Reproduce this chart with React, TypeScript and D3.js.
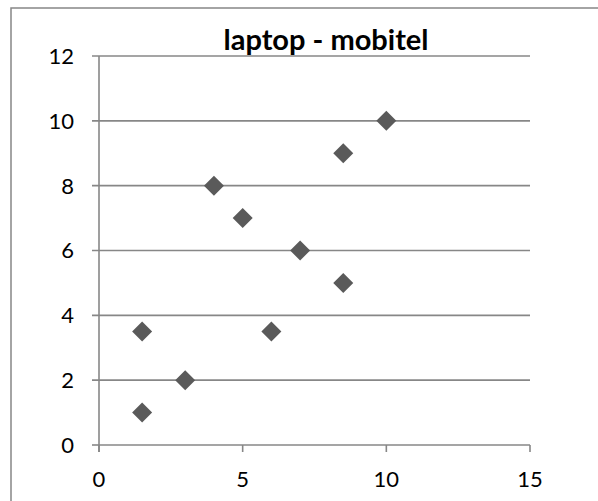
import React from "react";
import * as d3 from "d3";

const title = "laptop - mobitel";
const xValues = [1.5, 1.5, 3, 4, 5, 6, 7, 8.5, 8.5, 10];
const yValues = [3.5, 1, 2, 8, 7, 3.5, 6, 9, 5, 10];
const xTicks = [0, 5, 10, 15];
const yTicks = [0, 2, 4, 6, 8, 10, 12];

const W = 598;
const H = 501;
const FONT = "Lato, 'Open Sans', sans-serif";

export default function App() {
  const x = d3.scaleLinear().domain([0, 15]).range([99, 530]);
  const y = d3.scaleLinear().domain([0, 12]).range([445, 56]);
  const points = xValues.map((v, i) => ({ x: v, y: yValues[i] }));
  const gridColor = "#878787";
  const r = 10;

  return (
    <svg
      width={W}
      height={H}
      style={{ position: "absolute", left: 0, top: 0, background: "#fff" }}
      fontFamily={FONT}
    >
      <rect x={0} y={0} width={W} height={H} fill="#fff" />
      {/* chart border */}
      <rect x={11} y={8} width={W + 20} height={H + 20} fill="none" stroke={gridColor} strokeWidth={1.5} />
      {/* gridlines */}
      {yTicks.filter((t) => t !== 0).map((t) => (
        <line key={"g" + t} x1={92} x2={x(15)} y1={y(t)} y2={y(t)} stroke={gridColor} strokeWidth={1.6} />
      ))}
      {/* y axis */}
      <line x1={x(0)} x2={x(0)} y1={y(12)} y2={y(0) + 7} stroke={gridColor} strokeWidth={1.6} />
      <line x1={92} x2={x(0)} y1={y(0)} y2={y(0)} stroke={gridColor} strokeWidth={1.6} />
      {/* x axis */}
      <line x1={x(0)} x2={x(15)} y1={y(0)} y2={y(0)} stroke={gridColor} strokeWidth={1.6} />
      {xTicks.map((t) => (
        <line key={"xt" + t} x1={x(t)} x2={x(t)} y1={y(0)} y2={y(0) + 7} stroke={gridColor} strokeWidth={1.6} />
      ))}
      {/* y labels */}
      {yTicks.map((t) => (
        <text key={"yl" + t} x={74} y={y(t)} dy="0.36em" textAnchor="end" fontSize={22} fill="#000">
          {t}
        </text>
      ))}
      {/* x labels */}
      {xTicks.map((t) => (
        <text key={"xl" + t} x={x(t)} y={487} textAnchor="middle" fontSize={22} fill="#000">
          {t}
        </text>
      ))}
      {/* points */}
      {points.map((p, i) => (
        <path
          key={"p" + i}
          d={`M${x(p.x)},${y(p.y) - r}L${x(p.x) + r},${y(p.y)}L${x(p.x)},${y(p.y) + r}L${x(p.x) - r},${y(p.y)}Z`}
          fill="#5a5a5a"
        />
      ))}
      {/* title */}
      <text x={326} y={50} textAnchor="middle" fontSize={29} fontWeight="bold" fill="#000">
        {title}
      </text>
    </svg>
  );
}
